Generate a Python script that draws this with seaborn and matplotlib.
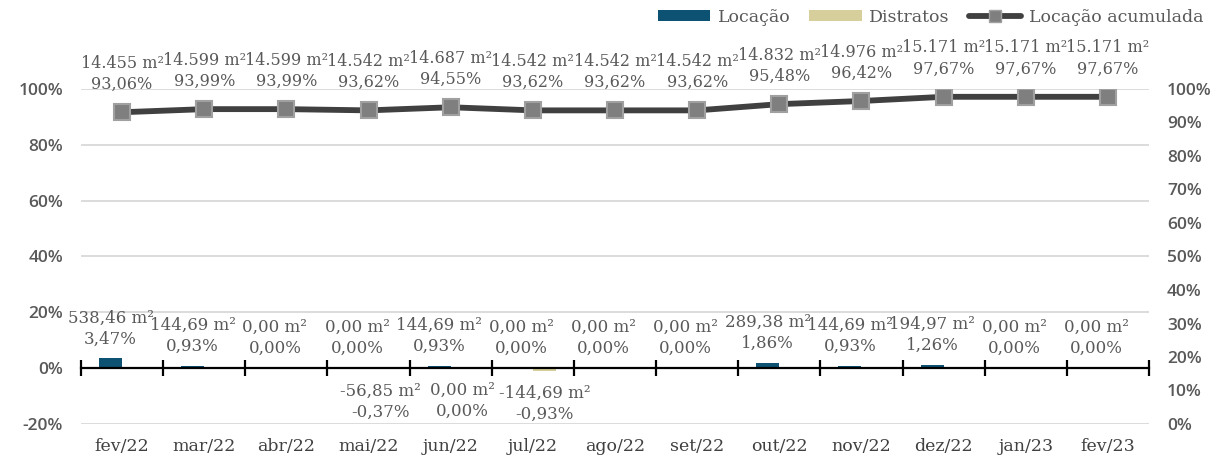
import numpy as np
import pandas as pd
import matplotlib
matplotlib.use("Agg")
import matplotlib.pyplot as plt
import seaborn as sns
from matplotlib.patches import Patch
from matplotlib.lines import Line2D
from matplotlib.ticker import FuncFormatter, MultipleLocator

# ---------------- data ----------------
months = ["fev/22", "mar/22", "abr/22", "mai/22", "jun/22", "jul/22", "ago/22",
          "set/22", "out/22", "nov/22", "dez/22", "jan/23", "fev/23"]
loc_m2 = [538.46, 144.69, 0.00, 0.00, 144.69, 0.00, 0.00, 0.00, 289.38, 144.69, 194.97, 0.00, 0.00]
loc_pct = [3.47, 0.93, 0.00, 0.00, 0.93, 0.00, 0.00, 0.00, 1.86, 0.93, 1.26, 0.00, 0.00]
dist_m2 = [None, None, None, -56.85, 0.00, -144.69, None, None, None, None, None, None, None]
dist_pct = [None, None, None, -0.37, 0.00, -0.93, None, None, None, None, None, None, None]
acc_m2 = [14455, 14599, 14599, 14542, 14687, 14542, 14542, 14542, 14832, 14976, 15171, 15171, 15171]
acc_pct = [93.06, 93.99, 93.99, 93.62, 94.55, 93.62, 93.62, 93.62, 95.48, 96.42, 97.67, 97.67, 97.67]

series_names = ["Locação", "Distratos", "Locação acumulada"]
c_loc = "#0D5272"
c_dist = "#D6CF9B"
c_line = "#404040"
c_mark = "#7F7F7F"
c_text = "#595959"

def br_dec(v):
    return f"{v:.2f}".replace(".", ",")

def br_int(v):
    return f"{v:,.0f}".replace(",", ".")

n = len(months)

# ---------------- figure ----------------
sns.set_theme(style="white")
plt.rcParams["font.family"] = ["DejaVu Serif"]

W, H = 1216, 459
fig = plt.figure(figsize=(W / 100, H / 100), dpi=100)
ax = fig.add_axes([81 / W, 1 - 424 / H, (1149 - 81) / W, (424 - 89) / H])

df = pd.DataFrame({
    "mes": months * 2,
    "serie": [series_names[0]] * n + [series_names[1]] * n,
    "valor": [p / 100 for p in loc_pct] + [np.nan if p is None else p / 100 for p in dist_pct],
})
sns.barplot(data=df, x="mes", y="valor", hue="serie", order=months,
            hue_order=series_names[:2], palette=[c_loc, c_dist], saturation=1,
            width=0.56, ax=ax, legend=False, linewidth=0, errorbar=None)

# bar labels
for ci, cont in enumerate(ax.containers):
    for p in cont.patches:
        cx = p.get_x() + p.get_width() / 2
        i = int(round(cx))
        h = p.get_height()
        if ci == 0:
            txt = f"{br_dec(loc_m2[i])} m²\n{br_dec(loc_pct[i])}%"
            ax.annotate(txt, xy=(cx, h if not np.isnan(h) else 0), xytext=(0, 8),
                        textcoords="offset points", ha="center", va="bottom",
                        fontsize=12, color=c_text, linespacing=1.3,
                        annotation_clip=False)
        else:
            if dist_m2[i] is None:
                continue
            txt = f"{br_dec(dist_m2[i])} m²\n{br_dec(dist_pct[i])}%"
            ax.annotate(txt, xy=(cx, h if not np.isnan(h) else 0), xytext=(0, -10),
                        textcoords="offset points", ha="center", va="top",
                        fontsize=12, color=c_text, linespacing=1.3,
                        annotation_clip=False)

ax.set_ylim(-0.2, 1.0)
ax.yaxis.set_major_locator(MultipleLocator(0.2))
ax.yaxis.set_major_formatter(FuncFormatter(lambda v, p: f"{int(round(v * 100))}%"))
ax.grid(axis="y", color="#D9D9D9", lw=1.3)
ax.grid(axis="x", visible=False)
ax.set_axisbelow(True)
ax.set_xlabel("")
ax.set_ylabel("")
for s in ["top", "right", "left"]:
    ax.spines[s].set_visible(False)
ax.spines["bottom"].set_position(("data", 0))
ax.spines["bottom"].set_color("black")
ax.spines["bottom"].set_linewidth(1.6)
ax.set_xticks(np.arange(-0.5, n, 1.0), minor=True)
ax.tick_params(axis="x", which="minor", direction="inout", length=11, width=1.6,
               color="black", bottom=True)
ax.tick_params(axis="x", which="major", length=0, pad=50, labelsize=12.5,
               labelcolor="#404040")
ax.tick_params(axis="y", length=0, pad=13, labelsize=12.5, labelcolor=c_text)
for lab in ax.get_yticklabels():
    lab.set_fontfamily("Open Sans")
    lab.set_fontweight("semibold")

# accumulated line on secondary axis
ax2 = ax.twinx()
xs = np.arange(n)
sns.lineplot(x=xs, y=np.array(acc_pct) / 100, ax=ax2, color=c_line, lw=4.2,
             marker="s", markersize=12, markerfacecolor=c_mark,
             markeredgecolor="#A0A0A0", markeredgewidth=1.5)
for i in range(n):
    ax2.annotate(f"{br_int(acc_m2[i])} m²\n{br_dec(acc_pct[i])}%",
                 xy=(xs[i], acc_pct[i] / 100), xytext=(0, 14),
                 textcoords="offset points", ha="center", va="bottom",
                 fontsize=11.5, color=c_text, linespacing=1.3,
                 annotation_clip=False)
ax2.set_ylim(0, 1.0)
ax2.yaxis.set_major_locator(MultipleLocator(0.1))
ax2.yaxis.set_major_formatter(FuncFormatter(lambda v, p: f"{int(round(v * 100))}%"))
ax2.grid(False)
for s in ax2.spines.values():
    s.set_visible(False)
ax2.tick_params(axis="y", length=0, pad=13, labelsize=12.5, labelcolor=c_text)
for lab in ax2.get_yticklabels():
    lab.set_fontfamily("Open Sans")
    lab.set_fontweight("semibold")
ax2.set_ylabel("")
ax.set_xlim(-0.5, n - 0.5)

# legend
handles = [
    Patch(facecolor=c_loc, edgecolor="none"),
    Patch(facecolor=c_dist, edgecolor="none"),
    Line2D([0], [0], color=c_line, lw=4.2, marker="s", markersize=9,
           markerfacecolor=c_mark, markeredgecolor="#A0A0A0"),
]
leg = fig.legend(handles, series_names, loc="upper right",
                 bbox_to_anchor=(1212 / W, 1.0), ncol=3, frameon=False,
                 fontsize=12.5, handlelength=3.0, handleheight=0.6,
                 columnspacing=1.1, handletextpad=0.45, borderaxespad=0.1)
for t in leg.get_texts():
    t.set_color(c_text)

fig.savefig("out.png", dpi=100)
